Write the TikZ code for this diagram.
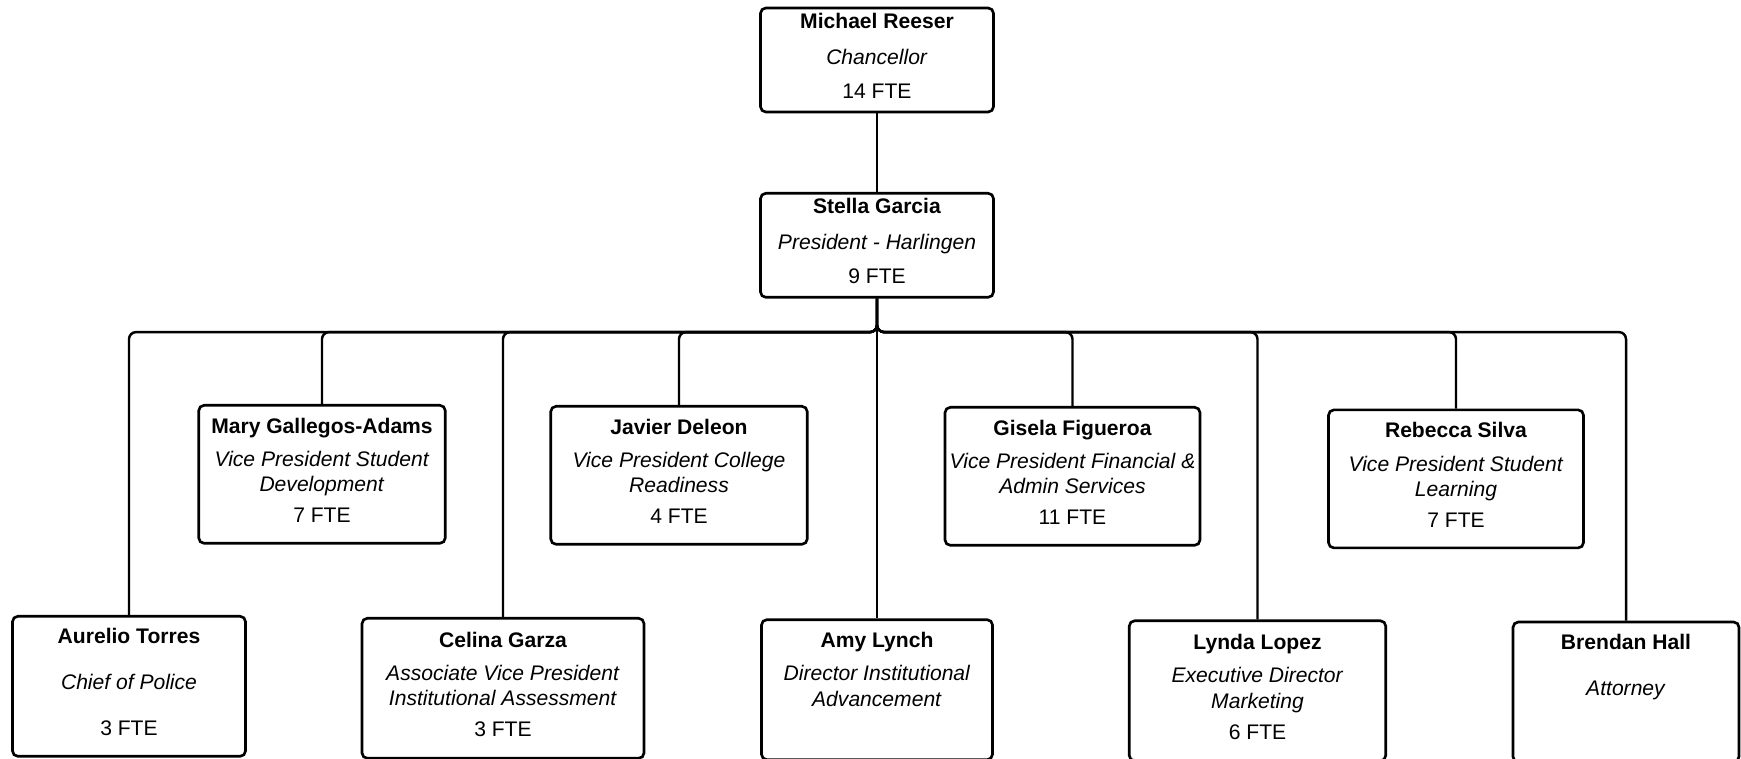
\documentclass[tikz,border=0pt]{standalone}
\usepackage{fontspec}
\setmainfont{Liberation Sans}
\usetikzlibrary{calc}
% pushes the text block of a box a little upwards
\newcommand{\raisetext}{\\[-9.9pt]\mbox{}}
\begin{document}
\begin{tikzpicture}[x=0.02cm,y=-0.02cm,
  box/.style={draw,line width=1.5pt,rounded corners=3pt,align=center,anchor=north,
    font=\fontsize{12}{14.5}\selectfont,inner sep=2pt},
  headbox/.style={box,minimum width=4.66cm,minimum height=2.08cm},
  vpbox/.style={box,minimum height=2.76cm},
  lowbox/.style={box,minimum height=2.8cm},
  conn/.style={line width=1.4pt,rounded corners=4pt}]
\useasboundingbox (0,0) rectangle (1741,759);

% Chancellor and president.
\node[headbox] (reeser) at (877,6.7)
 {\textbf{Michael Reeser}\\[5.7pt] \textit{Chancellor}\\[5.2pt] 14 FTE\raisetext};
\node[headbox] (garcia) at (877,192)
 {\textbf{Stella Garcia}\\[5.7pt] \textit{President - Harlingen}\\[5.2pt] 9 FTE\raisetext};

% Vice presidents (upper row).
\node[vpbox,minimum width=4.93cm] (gallegos) at (322,404)
 {\textbf{Mary Gallegos-Adams}\\[4.5pt] \textit{Vice President Student}\\ \textit{Development}\\[3pt] 7 FTE\raisetext};
\node[vpbox,minimum width=5.13cm] (deleon) at (679,405)
 {\textbf{Javier Deleon}\\[4.5pt] \textit{Vice President College}\\ \textit{Readiness}\\[3pt] 4 FTE\raisetext};
\node[vpbox,minimum width=5.1cm] (figueroa) at (1072.5,406)
 {\textbf{Gisela Figueroa}\\[4.5pt] \textit{Vice President Financial \&}\\ \textit{Admin Services}\\[3pt] 11 FTE\raisetext};
\node[vpbox,minimum width=5.1cm] (silva) at (1456,408.6)
 {\textbf{Rebecca Silva}\\[4.5pt] \textit{Vice President Student}\\ \textit{Learning}\\[3pt] 7 FTE\raisetext};

% Lower row.
\node[lowbox,minimum width=4.66cm] (torres) at (129,615)
 {\textbf{Aurelio Torres}\\[11.7pt] \textit{Chief of Police}\\[11.7pt] 3 FTE\raisetext};
\node[lowbox,minimum width=5.64cm] (garza) at (503,617)
 {\textbf{Celina Garza}\\[4.5pt] \textit{Associate Vice President}\\ \textit{Institutional Assessment}\\[3pt] 3 FTE\raisetext};
\node[lowbox,minimum width=4.62cm] (lynch) at (877,618.4)
 {\textbf{Amy Lynch}\\[4.5pt] \textit{Director Institutional}\\ \textit{Advancement}\\[4.5pt] \strut};
\node[lowbox,minimum width=5.13cm] (lopez) at (1257.5,619.5)
 {\textbf{Lynda Lopez}\\[4.5pt] \textit{Executive Director}\\ \textit{Marketing}\\[3pt] 6 FTE\raisetext};
\node[lowbox,minimum width=4.52cm] (hall) at (1626,620.7)
 {\textbf{Brendan Hall}\\[11.7pt] \textit{Attorney}\\[11.7pt] \strut};

% Connectors.
\draw[conn] (reeser.south) -- (garcia.north);
\coordinate (bus) at ($(garcia.south)+(0,33.5)$);
\foreach \n in {torres,gallegos,garza,deleon,lynch,figueroa,lopez,silva,hall}
  \draw[conn] (garcia.south) -- (bus) -| (\n.north);
\end{tikzpicture}
\end{document}
